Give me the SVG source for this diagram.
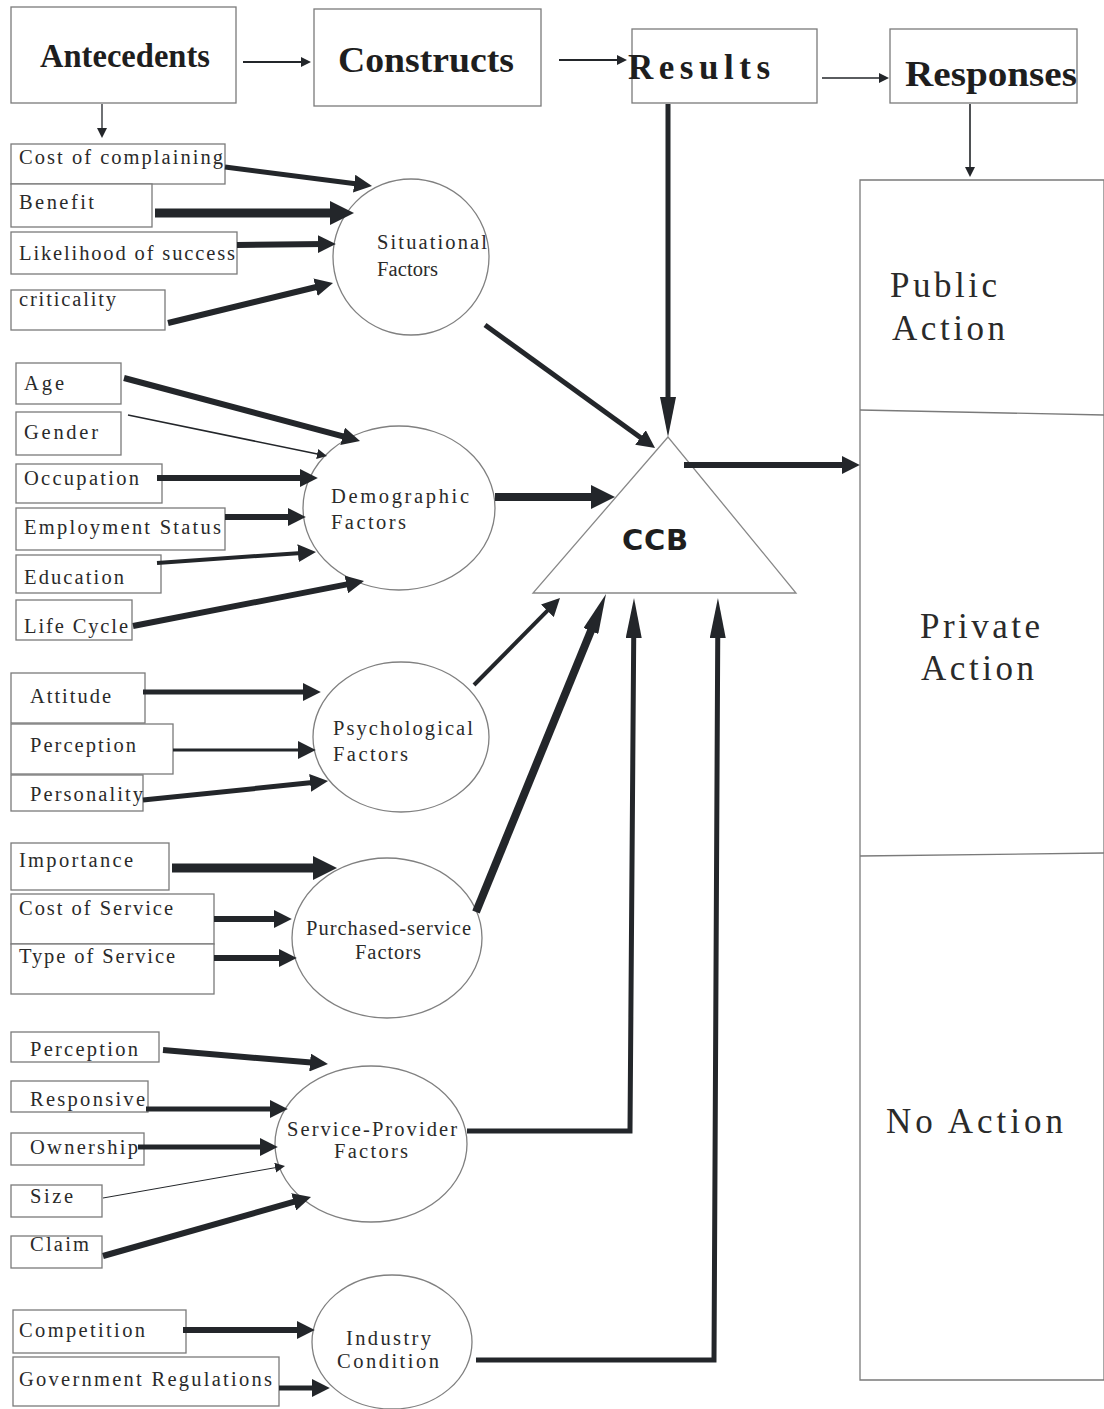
<svg xmlns="http://www.w3.org/2000/svg" width="1104" height="1409" viewBox="0 0 1104 1409">
<style>
.box{fill:#fff;stroke:#7a7a7a;stroke-width:1.3}
.ell{fill:#fff;stroke:#808080;stroke-width:1.3}
.lbl{font-family:"Liberation Serif",serif;font-size:20.5px;fill:#2a2a2a}
.hdr{font-family:"Liberation Serif",serif;font-weight:bold;fill:#1e1e1e}
.big{font-family:"Liberation Serif",serif;font-size:35px;fill:#2a2a2a}
.ccb{font-family:"DejaVu Sans",sans-serif;font-weight:bold;font-size:29px;fill:#1e1e1e}
.ar{fill:none;stroke:#23262a;stroke-linecap:butt;stroke-linejoin:miter}
</style>
<defs>
<marker id="lg" viewBox="0 0 10 10" refX="4" refY="5" markerWidth="24" markerHeight="24" markerUnits="userSpaceOnUse" orient="auto"><path d="M0,0 L10,5 L0,10 z" fill="#23262a"/></marker>
<marker id="md" viewBox="0 0 10 10" refX="4" refY="5" markerWidth="18" markerHeight="18" markerUnits="userSpaceOnUse" orient="auto"><path d="M0,0 L10,5 L0,10 z" fill="#23262a"/></marker>
<marker id="sm" viewBox="0 0 10 10" refX="4" refY="5" markerWidth="10" markerHeight="10" markerUnits="userSpaceOnUse" orient="auto"><path d="M0,0 L10,5 L0,10 z" fill="#23262a"/></marker>
<marker id="lng" viewBox="0 0 40 16" refX="12" refY="8" markerWidth="40" markerHeight="16" markerUnits="userSpaceOnUse" orient="auto"><path d="M0,0 L40,8 L0,16 z" fill="#23262a"/></marker>
</defs>
<rect width="1104" height="1409" fill="#fff"/>

<g id="header">
<g id="antecedents"><rect class="box" x="11" y="7" width="225" height="96"/><text class="hdr" x="40" y="67" font-size="33" textLength="170" lengthAdjust="spacingAndGlyphs">Antecedents</text></g>
<g id="constructs"><rect class="box" x="314" y="9" width="227" height="97"/><text class="hdr" x="338" y="72" font-size="36" textLength="176" lengthAdjust="spacingAndGlyphs">Constructs</text></g>
<g id="results"><rect class="box" x="632" y="29" width="185" height="74"/><text class="hdr" x="628" y="79" font-size="35" textLength="142">Results</text></g>
<g id="responses"><rect class="box" x="890" y="29" width="187" height="74"/><text class="hdr" x="905" y="86" font-size="35" textLength="172" lengthAdjust="spacingAndGlyphs">Responses</text></g>
</g>

<g id="responses-panel">
<path class="box" d="M860,180 H1104 V1380 H860 Z"/>
<path d="M860,410 L1104,415" stroke="#7a7a7a" stroke-width="1.3" fill="none"/>
<path d="M860,856 L1104,853" stroke="#7a7a7a" stroke-width="1.3" fill="none"/>
<text class="big" x="890" y="297" textLength="107">Public</text>
<text class="big" x="892" y="340" textLength="113">Action</text>
<text class="big" x="920" y="638" textLength="120">Private</text>
<text class="big" x="921" y="680" textLength="113">Action</text>
<text class="big" x="886" y="1133" textLength="177">No Action</text>
</g>

<g id="ccb"><path d="M668,437 L533,593 L796,593 Z" fill="#fff" stroke="#888" stroke-width="1.3"/><text class="ccb" x="622" y="550" textLength="66">CCB</text></g>

<g id="situational-inputs">
<rect class="box" x="11" y="144" width="214" height="40"/><text class="lbl" x="19" y="164" textLength="204">Cost of complaining</text>
<rect class="box" x="11" y="184" width="141" height="43"/><text class="lbl" x="19" y="209" textLength="75">Benefit</text>
<rect class="box" x="11" y="232" width="226" height="42"/><text class="lbl" x="19" y="260" textLength="216">Likelihood of success</text>
<rect class="box" x="11" y="290" width="154" height="40"/><text class="lbl" x="19" y="306" textLength="97">criticality</text>
</g>
<g id="situational"><ellipse class="ell" cx="411" cy="257" rx="78" ry="78"/><text class="lbl" x="377" y="249" textLength="110">Situational</text><text class="lbl" x="377" y="276" textLength="61">Factors</text></g>

<g id="demographic-inputs">
<rect class="box" x="16" y="363" width="105" height="41"/><text class="lbl" x="24" y="390" textLength="40">Age</text>
<rect class="box" x="16" y="412" width="105" height="43"/><text class="lbl" x="24" y="439" textLength="74">Gender</text>
<rect class="box" x="16" y="464" width="146" height="39"/><text class="lbl" x="24" y="485" textLength="115">Occupation</text>
<rect class="box" x="16" y="508" width="209" height="42"/><text class="lbl" x="24" y="534" textLength="197">Employment Status</text>
<rect class="box" x="16" y="555" width="145" height="38"/><text class="lbl" x="24" y="584" textLength="100">Education</text>
<rect class="box" x="16" y="600" width="116" height="40"/><text class="lbl" x="24" y="633" textLength="104">Life Cycle</text>
</g>
<g id="demographic"><ellipse class="ell" cx="399" cy="508" rx="96" ry="82"/><text class="lbl" x="331" y="503" textLength="138">Demographic</text><text class="lbl" x="331" y="529" textLength="75">Factors</text></g>

<g id="psychological-inputs">
<rect class="box" x="11" y="673" width="134" height="50"/><text class="lbl" x="30" y="703" textLength="81">Attitude</text>
<rect class="box" x="11" y="724" width="162" height="50"/><text class="lbl" x="30" y="752" textLength="106">Perception</text>
<rect class="box" x="11" y="775" width="132" height="36"/><text class="lbl" x="30" y="801" textLength="113">Personality</text>
</g>
<g id="psychological"><ellipse class="ell" cx="401" cy="737" rx="88" ry="75"/><text class="lbl" x="333" y="735" textLength="140">Psychological</text><text class="lbl" x="333" y="761" textLength="75">Factors</text></g>

<g id="purchased-inputs">
<rect class="box" x="11" y="843" width="158" height="47"/><text class="lbl" x="19" y="867" textLength="114">Importance</text>
<rect class="box" x="11" y="894" width="203" height="50"/><text class="lbl" x="19" y="915" textLength="154">Cost of Service</text>
<rect class="box" x="11" y="944" width="203" height="50"/><text class="lbl" x="19" y="963" textLength="156">Type of Service</text>
</g>
<g id="purchased"><ellipse class="ell" cx="387" cy="938" rx="95" ry="80"/><text class="lbl" x="306" y="935" textLength="165">Purchased-service</text><text class="lbl" x="355" y="959" textLength="66">Factors</text></g>

<g id="provider-inputs">
<rect class="box" x="11" y="1032" width="148" height="30"/><text class="lbl" x="30" y="1056" textLength="108">Perception</text>
<rect class="box" x="11" y="1081" width="137" height="31"/><text class="lbl" x="30" y="1106" textLength="115">Responsive</text>
<rect class="box" x="11" y="1133" width="133" height="32"/><text class="lbl" x="30" y="1154" textLength="108">Ownership</text>
<rect class="box" x="11" y="1185" width="91" height="32"/><text class="lbl" x="30" y="1203" textLength="43">Size</text>
<rect class="box" x="11" y="1236" width="91" height="32"/><text class="lbl" x="30" y="1251" textLength="59">Claim</text>
</g>
<g id="provider"><ellipse class="ell" cx="371" cy="1144" rx="96" ry="78"/><text class="lbl" x="287" y="1136" textLength="170">Service-Provider</text><text class="lbl" x="334" y="1158" textLength="74">Factors</text></g>

<g id="industry-inputs">
<rect class="box" x="13" y="1310" width="173" height="43"/><text class="lbl" x="19" y="1337" textLength="126">Competition</text>
<rect class="box" x="13" y="1357" width="266" height="49"/><text class="lbl" x="19" y="1386" textLength="253">Government Regulations</text>
</g>
<g id="industry"><ellipse class="ell" cx="392" cy="1342" rx="80" ry="67"/><text class="lbl" x="346" y="1345" textLength="85">Industry</text><text class="lbl" x="337" y="1368" textLength="102">Condition</text></g>

<g id="connectors">
<line class="ar" x1="243" y1="62" x2="305" y2="62" stroke-width="2" marker-end="url(#sm)"/>
<line class="ar" x1="559" y1="60" x2="621" y2="60" stroke-width="2" marker-end="url(#sm)"/>
<line class="ar" x1="822" y1="78" x2="883" y2="78" stroke-width="1.3" marker-end="url(#sm)"/>
<line class="ar" x1="102" y1="104" x2="102" y2="132" stroke-width="1.3" marker-end="url(#sm)"/>
<line class="ar" x1="970" y1="104" x2="970" y2="171" stroke-width="1.6" marker-end="url(#sm)"/>
<line class="ar" x1="668" y1="104" x2="668" y2="409" stroke-width="5" marker-end="url(#lng)"/>

<line class="ar" x1="225" y1="167" x2="361.3" y2="184.6" stroke-width="5" marker-end="url(#md)"/>
<line class="ar" x1="155" y1="213" x2="339.6" y2="213" stroke-width="9" marker-end="url(#lg)"/>
<line class="ar" x1="237" y1="245" x2="325" y2="244" stroke-width="6" marker-end="url(#md)"/>
<line class="ar" x1="168" y1="323" x2="322.5" y2="285.5" stroke-width="6" marker-end="url(#md)"/>
<line class="ar" x1="485" y1="325" x2="646.3" y2="441.7" stroke-width="5" marker-end="url(#md)"/>

<line class="ar" x1="124" y1="378" x2="349.6" y2="438.2" stroke-width="6" marker-end="url(#md)"/>
<line class="ar" x1="128" y1="415" x2="321.1" y2="454.8" stroke-width="1.5" marker-end="url(#sm)"/>
<line class="ar" x1="157" y1="478" x2="307" y2="478" stroke-width="6" marker-end="url(#md)"/>
<line class="ar" x1="225" y1="517" x2="295" y2="517" stroke-width="6" marker-end="url(#md)"/>
<line class="ar" x1="157" y1="563" x2="305.2" y2="552.7" stroke-width="4" marker-end="url(#md)"/>
<line class="ar" x1="133" y1="626" x2="353.4" y2="583.1" stroke-width="6" marker-end="url(#md)"/>
<line class="ar" x1="495" y1="497" x2="600.6" y2="497" stroke-width="8" marker-end="url(#lg)"/>

<line class="ar" x1="143" y1="692" x2="310" y2="692" stroke-width="5" marker-end="url(#md)"/>
<line class="ar" x1="173" y1="750" x2="305" y2="750" stroke-width="3" marker-end="url(#md)"/>
<line class="ar" x1="143" y1="800" x2="317.3" y2="782.1" stroke-width="5" marker-end="url(#md)"/>
<line class="ar" x1="474" y1="685" x2="552.4" y2="605.7" stroke-width="4" marker-end="url(#md)"/>

<line class="ar" x1="172" y1="868" x2="322.6" y2="868" stroke-width="9" marker-end="url(#lg)"/>
<line class="ar" x1="214" y1="919" x2="281" y2="919" stroke-width="6" marker-end="url(#md)"/>
<line class="ar" x1="214" y1="958" x2="286" y2="958" stroke-width="6" marker-end="url(#md)"/>
<line class="ar" x1="476" y1="912" x2="595.4" y2="619.9" stroke-width="8" marker-end="url(#lng)"/>

<line class="ar" x1="163" y1="1050" x2="317.2" y2="1063.1" stroke-width="6" marker-end="url(#md)"/>
<line class="ar" x1="146" y1="1109" x2="277" y2="1109" stroke-width="5" marker-end="url(#md)"/>
<line class="ar" x1="138" y1="1147" x2="267" y2="1147" stroke-width="5" marker-end="url(#md)"/>
<line class="ar" x1="103" y1="1198" x2="279.1" y2="1167" stroke-width="1" marker-end="url(#sm)"/>
<line class="ar" x1="103" y1="1256" x2="300.6" y2="1199.9" stroke-width="6" marker-end="url(#md)"/>
<path class="ar" d="M467,1131 H630 L633.8,626" stroke-width="5" marker-end="url(#lng)"/>

<line class="ar" x1="183" y1="1330" x2="304" y2="1330" stroke-width="6" marker-end="url(#md)"/>
<line class="ar" x1="279" y1="1388" x2="319" y2="1388" stroke-width="5" marker-end="url(#md)"/>
<path class="ar" d="M476,1360 H714 L717.8,626" stroke-width="5" marker-end="url(#lng)"/>

<line class="ar" x1="684" y1="465" x2="849" y2="465" stroke-width="6" marker-end="url(#md)"/>
</g>
</svg>
